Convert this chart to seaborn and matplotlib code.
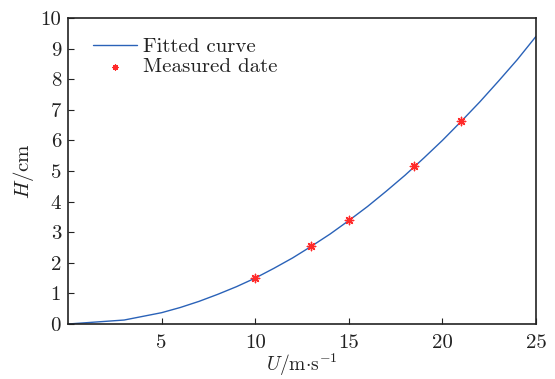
import matplotlib
matplotlib.use("Agg")
import matplotlib.pyplot as plt
import seaborn as sns
import pandas as pd

# Fitted curve samples (wind speed U in m/s, height H in cm)
curve_u = [0, 3, 5, 6, 7, 8, 9, 10, 11, 12, 13, 14, 15, 16, 17, 18, 19, 20, 21, 22, 23, 24, 25]
curve_h = [0.0, 0.13, 0.37, 0.54, 0.74, 0.97, 1.22, 1.50, 1.82, 2.16, 2.54, 2.94, 3.38, 3.84,
           4.34, 4.86, 5.42, 6.00, 6.62, 7.26, 7.94, 8.64, 9.40]

# Measured points
meas_u = [10, 13, 15, 18.5, 21]
meas_h = [1.50, 2.55, 3.40, 5.15, 6.63]

x_ticks = [5, 10, 15, 20, 25]
y_ticks = [0, 1, 2, 3, 4, 5, 6, 7, 8, 9, 10]

sns.set_theme(style="white")
plt.rcParams["font.family"] = "serif"
plt.rcParams["font.serif"] = ["cmr10", "DejaVu Serif"]
plt.rcParams["mathtext.fontset"] = "cm"
plt.rcParams["axes.formatter.use_mathtext"] = True
plt.rcParams["axes.unicode_minus"] = False

curve = pd.DataFrame({"U": curve_u, "H": curve_h})
meas = pd.DataFrame({"U": meas_u, "H": meas_h})

fig = plt.figure(figsize=(5.55, 3.79), dpi=100)
ax = fig.add_axes([0.1225, 0.1451, 0.8433, 0.8074])

sns.lineplot(data=curve, x="U", y="H", ax=ax, color="#2a62b8", linewidth=1.0,
             label="Fitted curve")
sns.scatterplot(data=meas, x="U", y="H", ax=ax, color="#ff2a2a", marker=(8, 2, 0),
                s=36, linewidth=1.0, edgecolor="#ff2a2a", label="Measured date", zorder=3)

ax.set_xlim(0, 25)
ax.set_ylim(0, 10)
ax.set_xticks(x_ticks)
ax.set_yticks(y_ticks)
ax.set_xticklabels([str(t) for t in x_ticks])
ax.set_yticklabels([str(t) for t in y_ticks])
ax.tick_params(axis="both", direction="in", length=4, width=0.8, labelsize=15,
               color="#222222", labelcolor="#222222", bottom=True, left=True)
ax.tick_params(axis="x", pad=7)
ax.tick_params(axis="y", pad=5)
for side in ax.spines.values():
    side.set_visible(True)
    side.set_color("#222222")
    side.set_linewidth(1.2)

ax.set_xlabel(r"$U/\mathrm{m{\cdot}s^{-1}}$", fontsize=14, color="#222222", labelpad=0)
ax.set_ylabel(r"$H/\mathrm{cm}$", fontsize=15, color="#222222", labelpad=3)

leg = ax.legend(loc="upper left", frameon=False, fontsize=15, handlelength=2.1,
                borderaxespad=0, borderpad=0, handletextpad=0.3, labelspacing=0.08,
                markerscale=0.6, bbox_to_anchor=(0.053, 0.937))
for t in leg.get_texts():
    t.set_color("#222222")

fig.savefig("out.png", dpi=100)
